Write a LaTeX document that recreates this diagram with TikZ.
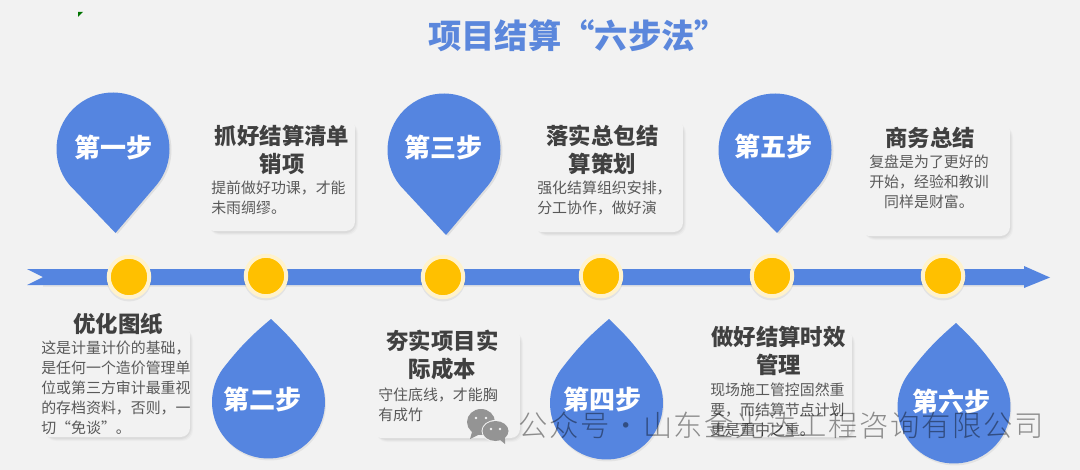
\documentclass[tikz,border=0pt]{standalone}
\usepackage{fontspec}
\setmainfont{Noto Sans CJK SC}
\newfontfamily\wmfont[LetterSpace=5.5]{Noto Sans CJK SC Light}
\definecolor{pagebg}{HTML}{F2F2F2}
\definecolor{stepblue}{HTML}{5585E0}
\definecolor{titleblue}{HTML}{5B87DC}
\definecolor{gold}{HTML}{FFC000}
\definecolor{cream}{HTML}{FFF2CC}
\definecolor{headgray}{HTML}{404040}
\definecolor{bodygray}{HTML}{595959}
\tikzset{
  droplabel/.style={font=\fontsize{19.5pt}{22pt}\selectfont\bfseries,text=white,inner sep=0pt},
  heading/.style={font=\fontsize{16.8pt}{21pt}\selectfont\bfseries,text=headgray,inner sep=0pt,align=center},
  bodytext/.style={font=\fontsize{11.2pt}{14.9pt}\selectfont,text=bodygray,inner sep=0pt,anchor=north west,align=left},
  cardbox/.style={fill=pagebg,rounded corners=7pt},
  dropfill/.style={fill=stepblue},
  ringdot/.style={circle,fill=gold,draw=cream,line width=3pt,minimum size=40.5pt*0.75,inner sep=0pt},
  chatbubble/.style={fill=black!42}
}
% card: x1 y1 x2 y2
\newcommand{\cardshape}[4]{%
  \foreach \o/\a in {3/.025,2/.03,1/.04}{
    \fill[black,opacity=\a,rounded corners=8pt] (#1+4,#2+4) rectangle (#3+\o,#4+\o+1);
  }
  \fill[cardbox] (#1,#2) rectangle (#3,#4);
}
% downward pin: cx cy tipx tipy
\newcommand{\pindown}[4]{%
  \fill[black,opacity=.08] (#3+2,#4+1) -- ([shift={(#1+2,#2+1)}]141:56.5) arc[start angle=141,end angle=399,radius=56.5] -- cycle;
  \fill[dropfill] (#3,#4) -- ([shift={(#1,#2)}]141:56.5) arc[start angle=141,end angle=399,radius=56.5] -- cycle;
}
% upward drop: cx cy tipx tipy
\newcommand{\dropup}[4]{%
  \fill[black,opacity=.06] (#3+1,#4+2) to[bend left=6] ([shift={(#1+1,#2+2)}]-36:56.5) arc[start angle=-36,end angle=216,radius=56.5] to[bend left=6] cycle;
  \fill[dropfill] (#3,#4) to[bend left=6] ([shift={(#1,#2)}]-36:56.5) arc[start angle=-36,end angle=216,radius=56.5] to[bend left=6] cycle;
}
\begin{document}
\begin{tikzpicture}[x=.75pt,y=-.75pt]
\useasboundingbox (0,0) rectangle (1080,470);
\fill[pagebg] (0,0) rectangle (1080,470);
\fill[green!45!black] (78,12) -- (83,12) -- (78,17) -- cycle;
\node[font=\fontsize{25pt}{28pt}\selectfont\bfseries,text=titleblue,inner sep=0pt] (title) at (578,36) {项目结算“六步法”};

% timeline
\fill[stepblue] (27,269) -- (1024,269) -- (1024,266) -- (1050,277.5) -- (1024,288) -- (1024,285) -- (27,285) -- (43,277) -- cycle;
\fill[black,opacity=.05] (43,285) rectangle (1024,287);
\foreach \n/\x/\y in {d1/129/277,d2/266/276,d3/443/277,d4/601/276,d5/772/276,d6/943/276}{
  \fill[black,opacity=.06] (\x,\y+2) circle[radius=22.5];
  \node[ringdot] (\n) at (\x,\y) {};
}

% cards
\cardshape{41}{325}{190}{437}
\cardshape{205}{118}{355}{231}
\cardshape{372}{328}{520}{438}
\cardshape{532}{118}{683}{232}
\cardshape{705}{328}{852}{437}
\cardshape{860}{122}{1010}{236}

% pins
\pindown{113}{149}{115.5}{233}
\pindown{444}{150}{446}{235}
\pindown{775}{150}{777}{233}
\dropup{268.5}{402}{271}{319}
\dropup{606.5}{403}{609}{319}
\dropup{954}{407}{956}{323}

\node[droplabel] (s1) at (113,148) {第一步};
\node[droplabel] (s2) at (262,399) {第二步};
\node[droplabel] (s3) at (443,148) {第三步};
\node[droplabel] (s4) at (602,399) {第四步};
\node[droplabel] (s5) at (773,147) {第五步};
\node[droplabel] (s6) at (951,402) {第六步};

% headings
\node[heading] (h1) at (118,324) {优化图纸};
\node[heading] (h2) at (282,150) {抓好结算清单\\销项};
\node[heading] (h3) at (442.5,355) {夯实项目实\\际成本};
\node[heading] (h4) at (602.5,150) {落实总包结\\算策划};
\node[heading] (h5) at (778.5,351) {做好结算时效\\管理};
\node[heading] (h6) at (930,138) {商务总结};

% body
\node[bodytext] (b1) at (41,341) {这是计量计价的基础，\\是任何一个造价管理单\\位或第三方审计最重视\\的存档资料，否则，一\\切“免谈”。};
\node[bodytext] (b2) at (211,181) {提前做好功课，才能\\未雨绸缪。};
\node[bodytext] (b3) at (378,388) {守住底线，才能胸\\有成竹};
\node[bodytext] (b4) at (537,181) {强化结算组织安排，\\分工协作，做好演};
\node[bodytext] (b5) at (710,383) {现场施工管控固然重\\要，而结算节点计划\\更是重中之重。};
\node[bodytext,anchor=north,align=center] (b6) at (929,155) {复盘是为了更好的\\开始，经验和教训\\同样是财富。};

% watermark
\fill[chatbubble] (481,422) ellipse[x radius=14,y radius=13];
\fill[chatbubble] (472,432) -- (470,439) -- (480,434) -- cycle;
\fill[pagebg] (495.5,431) ellipse[x radius=14,y radius=11];
\fill[chatbubble] (495.5,431) ellipse[x radius=13,y radius=10];
\fill[chatbubble] (499,439) -- (505,444) -- (505,437) -- cycle;
\foreach \n/\x/\y in {e1/476/418,e2/486/418,e3/491/429,e4/500/429}{
  \fill[pagebg] (\x,\y) circle[radius=1.4];
}
\node[font=\wmfont\fontsize{22pt}{24pt}\selectfont,text=black,text opacity=.42,inner sep=0pt,anchor=west] (wm) at (518,425) {公众号\kern-4.5pt{} · \kern-4.5pt{}山东金光达工程咨询有限公司};
\end{tikzpicture}
\end{document}
